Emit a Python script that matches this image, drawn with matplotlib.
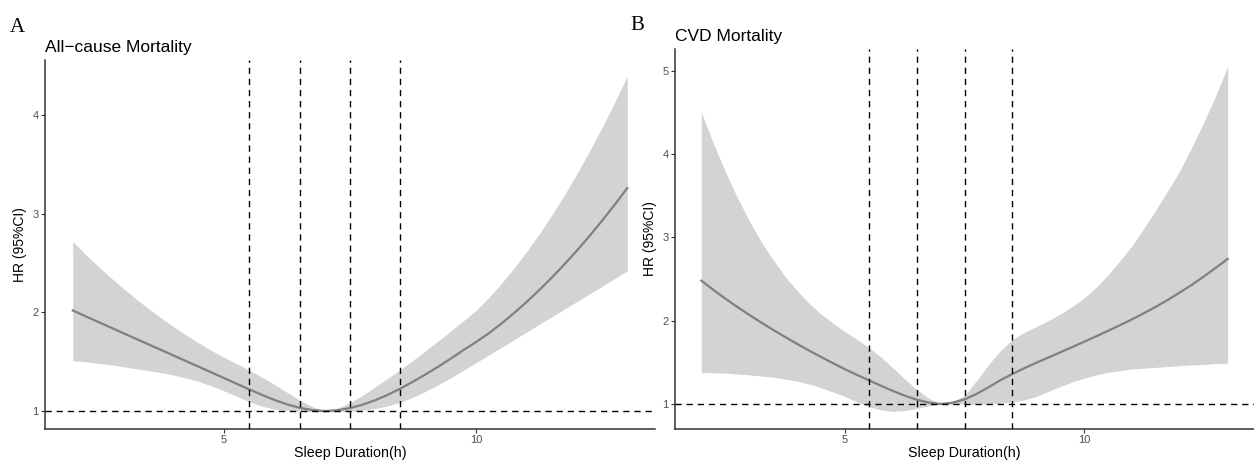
import matplotlib
matplotlib.use('Agg')
import matplotlib.pyplot as plt
import numpy as np

plt.rcParams['font.family'] = ['Liberation Sans', 'DejaVu Sans']

# sleep duration grid (h), 0.25 h steps from 2 to 13
hours = list(np.arange(2, 13.01, 0.25))

# All-cause mortality
all_hr = [2.02, 1.962, 1.905, 1.848, 1.791, 1.734, 1.677, 1.62, 1.563, 1.506, 1.449,
          1.392, 1.335, 1.277, 1.22, 1.165, 1.113, 1.068, 1.033, 1.01, 1.00,
          1.008, 1.03, 1.065, 1.11, 1.165, 1.228, 1.298, 1.372, 1.45, 1.532, 1.618,
          1.70, 1.787, 1.886, 1.992, 2.105, 2.225, 2.352, 2.486, 2.627, 2.775, 2.93,
          3.092, 3.261]
all_hi = [2.72, 2.59, 2.47, 2.355, 2.245, 2.14, 2.04, 1.945, 1.855, 1.77, 1.69,
          1.615, 1.545, 1.48, 1.415, 1.345, 1.27, 1.19, 1.11, 1.045, 1.00,
          1.03, 1.085, 1.16, 1.245, 1.333, 1.42, 1.515, 1.612, 1.711, 1.812, 1.915,
          2.02, 2.15, 2.292, 2.447, 2.614, 2.793, 2.985, 3.189, 3.406, 3.635, 3.876,
          4.13, 4.397]
all_lo = [1.51, 1.50, 1.485, 1.47, 1.45, 1.43, 1.41, 1.39, 1.365, 1.335, 1.30,
          1.255, 1.205, 1.15, 1.095, 1.05, 1.02, 1.005, 0.998, 0.994, 0.99,
          0.994, 0.999, 1.008, 1.025, 1.052, 1.09, 1.14, 1.20, 1.267, 1.338, 1.413,
          1.49, 1.568, 1.645, 1.723, 1.80, 1.878, 1.955, 2.033, 2.11, 2.188, 2.265,
          2.343, 2.42]

# CVD mortality
cvd_hr = [2.48, 2.37, 2.265, 2.165, 2.07, 1.978, 1.89, 1.805, 1.722, 1.642, 1.565,
          1.49, 1.418, 1.35, 1.285, 1.22, 1.158, 1.10, 1.052, 1.017, 1.00,
          1.015, 1.055, 1.12, 1.20, 1.285, 1.36, 1.43, 1.495, 1.557, 1.62, 1.683,
          1.747, 1.812, 1.878, 1.946, 2.016, 2.09, 2.167, 2.25, 2.338, 2.43, 2.53,
          2.634, 2.74]
cvd_hi = [4.50, 4.13, 3.79, 3.48, 3.20, 2.95, 2.73, 2.53, 2.36, 2.21, 2.08,
          1.97, 1.87, 1.775, 1.68, 1.565, 1.435, 1.30, 1.175, 1.07, 1.00,
          1.03, 1.10, 1.28, 1.47, 1.64, 1.77, 1.86, 1.93, 2.00, 2.08, 2.17,
          2.27, 2.40, 2.55, 2.72, 2.90, 3.11, 3.33, 3.56, 3.80, 4.08, 4.38,
          4.70, 5.05]
cvd_lo = [1.38, 1.375, 1.37, 1.36, 1.35, 1.335, 1.32, 1.30, 1.275, 1.24, 1.195,
          1.145, 1.09, 1.025, 0.968, 0.928, 0.912, 0.92, 0.948, 0.978, 1.00,
          1.00, 1.00, 1.00, 1.00, 1.01, 1.025, 1.05, 1.09, 1.15, 1.21, 1.265,
          1.31, 1.35, 1.38, 1.40, 1.42, 1.43, 1.44, 1.45, 1.46, 1.47, 1.475,
          1.485, 1.49]

cut_points = [5.5, 6.5, 7.5, 8.5]

fig = plt.figure(figsize=(12.54, 4.61), dpi=100)
ax1 = fig.add_axes([45/1254, 32/461, 610/1254, 369/461])
ax2 = fig.add_axes([675/1254, 32/461, 579/1254, 380/461])
ax1.patch.set_alpha(0)
ax2.patch.set_alpha(0)


def draw(ax, hr, lo, hi, title, ylim, yticks):
    ax.fill_between(hours, lo, hi, color='#D3D3D3', lw=0, zorder=1)
    ax.plot(hours, hr, color='#808080', lw=1.6, zorder=2)
    for c in cut_points:
        ax.axvline(c, color='black', lw=1.0, dashes=(4.5, 3.5), zorder=3)
    ax.axhline(1, color='black', lw=1.0, dashes=(4.5, 3.5), zorder=3)
    ax.set_xlim(1.45, 13.55)
    ax.set_ylim(*ylim)
    ax.set_xticks([5, 10])
    ax.set_yticks(yticks)
    for s in ['top', 'right']:
        ax.spines[s].set_visible(False)
    for s in ['left', 'bottom']:
        ax.spines[s].set_color('#333333')
        ax.spines[s].set_linewidth(1.1)
    ax.tick_params(length=3, width=0.8, color='#333333', labelcolor='#4D4D4D',
                   labelsize=8, pad=1.5)
    ax.set_xlabel('Sleep Duration(h)', fontsize=10.3, labelpad=0.5)
    ax.set_ylabel('HR (95%CI)', fontsize=10, labelpad=4)
    ax.set_title(title, loc='left', fontsize=12.5, pad=6)


draw(ax1, all_hr, all_lo, all_hi, 'All−cause Mortality', (0.818, 4.56), [1, 2, 3, 4])
draw(ax2, cvd_hr, cvd_lo, cvd_hi, 'CVD Mortality', (0.70, 5.26), [1, 2, 3, 4, 5])

fig.text(10/1254, 1 - 32/461, 'A', family='Liberation Serif', fontsize=15)
fig.text(630/1254, 1 - 30/461, 'B', family='Liberation Serif', fontsize=15)

fig.savefig('out.png', dpi=100)
